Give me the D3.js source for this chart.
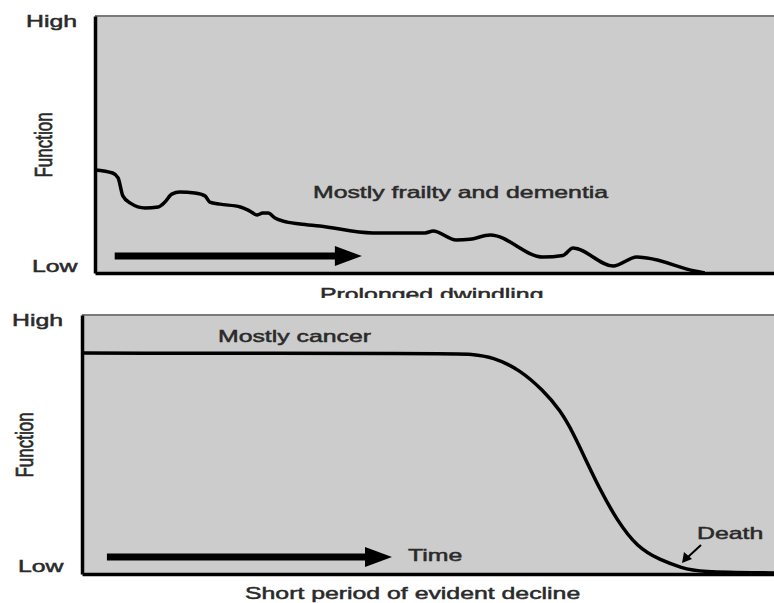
<!DOCTYPE html>
<html>
<head>
<meta charset="utf-8">
<script src="https://cdn.jsdelivr.net/npm/d3@7"></script>
<style>
  html, body { margin: 0; padding: 0; background: #fff; }
  text { font-family: "Liberation Sans", Arial, sans-serif; fill: #2a2a2a; stroke: #2a2a2a; stroke-width: 0.5px; }
</style>
</head>
<body>
<svg id="chart" width="774" height="603"></svg>
<script>
// trajectory of function over time (0 = low, 100 = high)
const frailtyTime = [0, 2.6, 3.4, 4.1, 5.2, 7.4, 9.3, 10.3, 11.3, 12.5, 14.7, 16.2, 16.9, 18.4, 21.4, 22.8,
  23.9, 24.7, 25.5, 26.5, 27.7, 30.2, 33.1, 40.9, 48.6, 49.8, 53.2, 55.2, 58.2, 66.0, 68.9, 70.4, 76.3, 79.8,
  81.3, 88.3, 89.8];
const frailtyFunction = [40.1, 38.9, 37.0, 30.0, 27.2, 25.3, 25.7, 27.6, 30.7, 31.5, 31.1, 30.0, 27.6, 26.8,
  25.7, 24.1, 22.6, 23.3, 23.3, 21.4, 20.2, 19.1, 18.3, 15.6, 15.6, 16.3, 12.8, 13.1, 14.8, 6.2, 6.8, 9.7, 2.7,
  6.2, 5.8, 0.8, 0];

const cancerTime = [0, 54.0, 56.1, 59.4, 63.3, 66.6, 69.1, 71.0, 73.0, 74.9, 77.3, 80.2, 83.5, 86.8, 88.9, 100];
const cancerFunction = [85.3, 85.1, 84.9, 83.8, 78.8, 71.0, 63.3, 54.4, 42.9, 32.4, 20.8, 10.4, 5.4, 2.3, 0.8, 0.4];

const yTickLabels = ['Low', 'High'];
const yAxisTitle = 'Function';
const panelNotes = ['Mostly frailty and dementia', 'Mostly cancer'];
const panelTitles = ['Prolonged dwindling', 'Short period of evident decline'];
const timeArrows = [[2.9, 39.3], [3.6, 44.8]];

const STRETCH = 1.46; // source picture is squashed wide
const FONT = 17;

const svg = d3.select('#chart');

function label(g, x, y, str, rotate) {
  return g.append('text')
    .attr('transform', `translate(${x},${y}) scale(${STRETCH},1)` + (rotate ? ' rotate(-90)' : ''))
    .attr('font-size', FONT)
    .attr('text-anchor', rotate ? 'middle' : 'start')
    .text(str);
}

function drawArrow(g, x0, x1, y) {
  g.append('line')
    .attr('x1', x0).attr('x2', x1 - 22)
    .attr('y1', y).attr('y2', y)
    .attr('stroke', '#000')
    .attr('stroke-width', 7);
  g.append('path')
    .attr('d', `M${x1 - 27},${y - 10}L${x1},${y}L${x1 - 27},${y + 10}Z`)
    .attr('fill', '#000');
}

function drawPanel(opts) {
  const { left, top, bottom, time, values, idx, curve } = opts;
  const x = d3.scaleLinear().domain([0, 100]).range([left, 774]);
  const y = d3.scaleLinear().domain([0, 100]).range([bottom, top]);
  const g = svg.append('g');

  g.append('rect')
    .attr('x', left).attr('y', top)
    .attr('width', 774 - left).attr('height', bottom - top)
    .attr('fill', '#cccccc');

  // thin top edge
  g.append('line')
    .attr('x1', left).attr('x2', 774)
    .attr('y1', y(100)).attr('y2', y(100))
    .attr('stroke', '#7a7a7a')
    .attr('stroke-width', 2);

  const line = d3.line()
    .x((d, i) => x(time[i]))
    .y(d => y(d))
    .curve(curve);

  g.append('path')
    .datum(values)
    .attr('fill', 'none')
    .attr('stroke', '#000')
    .attr('stroke-width', 3.5)
    .attr('stroke-linejoin', 'round')
    .attr('d', line);

  const axisY = g.append('g')
    .attr('transform', `translate(${left},0)`)
    .call(d3.axisLeft(y).tickValues([]).tickSizeOuter(0));
  const axisX = g.append('g')
    .attr('transform', `translate(0,${bottom})`)
    .call(d3.axisBottom(x).tickValues([]).tickSizeOuter(0));
  [axisY, axisX].forEach(a => a.select('.domain')
    .attr('stroke', '#000')
    .attr('stroke-width', 3.5));

  drawArrow(g, x(timeArrows[idx][0]), x(timeArrows[idx][1]), y(6.6));
  return { g, x, y };
}

// top panel
const p1 = drawPanel({ left: 95, top: 16, bottom: 273, time: frailtyTime, values: frailtyFunction, idx: 0,
  curve: d3.curveMonotoneX });
label(p1.g, 26, 27, yTickLabels[1]);
label(p1.g, 32, 272, yTickLabels[0]);
label(p1.g, 52, 145, yAxisTitle, true);
label(p1.g, 313, 198, panelNotes[0]);

svg.append('clipPath').attr('id', 'cut')
  .append('rect').attr('x', 0).attr('y', 276).attr('width', 774).attr('height', 22);
label(svg.append('g').attr('clip-path', 'url(#cut)'), 320, 300, panelTitles[0]);

// bottom panel
const p2 = drawPanel({ left: 82, top: 315, bottom: 574, time: cancerTime, values: cancerFunction, idx: 1,
  curve: d3.curveBasis });
label(p2.g, 12, 326, yTickLabels[1]);
label(p2.g, 18, 572, yTickLabels[0]);
label(p2.g, 33, 445, yAxisTitle, true);
label(p2.g, 218, 342, panelNotes[1]);
label(p2.g, 408, 561, 'Time');
label(p2.g, 697, 539, 'Death');
label(svg, 245, 599, panelTitles[1]);

// little pointer to the death point
p2.g.append('line')
  .attr('x1', 701).attr('y1', 545)
  .attr('x2', 688).attr('y2', 557)
  .attr('stroke', '#000').attr('stroke-width', 2);
p2.g.append('path')
  .attr('d', 'M682,563L684,552L692,559Z')
  .attr('fill', '#000');
</script>
</body>
</html>
